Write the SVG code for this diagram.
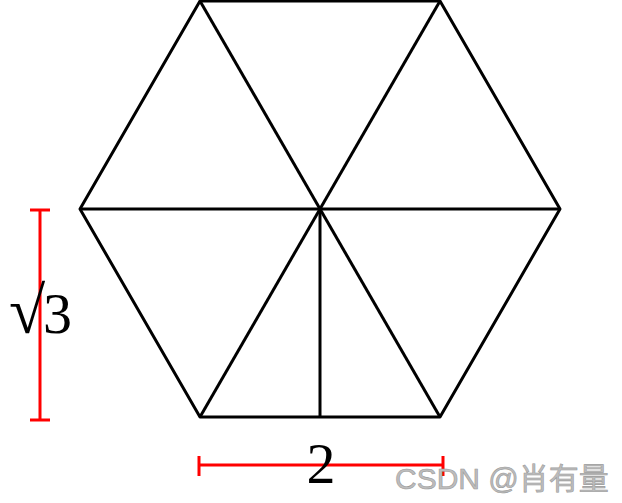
<svg xmlns="http://www.w3.org/2000/svg" width="622" height="503" viewBox="0 0 622 503">
<style>
.k{stroke:#000;stroke-width:3;fill:none;stroke-linejoin:round}
.r{stroke:#f00;stroke-width:3;fill:none}
.t{font-family:"Liberation Serif","Times New Roman",serif;font-size:58px;fill:#000}
.w{font-family:"Liberation Sans",Arial,"Noto Sans CJK SC",sans-serif;font-size:30px;fill:#bdbdbd;stroke:#9a9a9a;stroke-width:0.6}
</style>
<rect width="622" height="503" fill="#fff"/>
<g id="hexagon">
<polygon class="k" points="200,1 440,1 560,209 440,417 200,417 80,209"/>
</g>
<g id="connectors">
<line class="k" x1="80" y1="209" x2="560" y2="209"/>
<line class="k" x1="200" y1="1" x2="440" y2="417"/>
<line class="k" x1="440" y1="1" x2="200" y2="417"/>
<line class="k" x1="320" y1="209" x2="320" y2="417"/>
</g>
<g id="dim-height">
<line class="r" x1="40" y1="210" x2="40" y2="420"/>
<line class="r" x1="30" y1="210" x2="50" y2="210"/>
<line class="r" x1="30" y1="420" x2="50" y2="420"/>
<text class="t" x="9" y="333"><tspan font-size="66">√</tspan><tspan x="43">3</tspan></text>
</g>
<g id="dim-width">
<line class="r" x1="199" y1="465" x2="443" y2="465"/>
<line class="r" x1="199" y1="456" x2="199" y2="476"/>
<line class="r" x1="443" y1="456" x2="443" y2="476"/>
<text class="t" x="321" y="483" text-anchor="middle">2</text>
</g>
<text class="w" x="395" y="489">CSDN @肖有量</text>
</svg>
